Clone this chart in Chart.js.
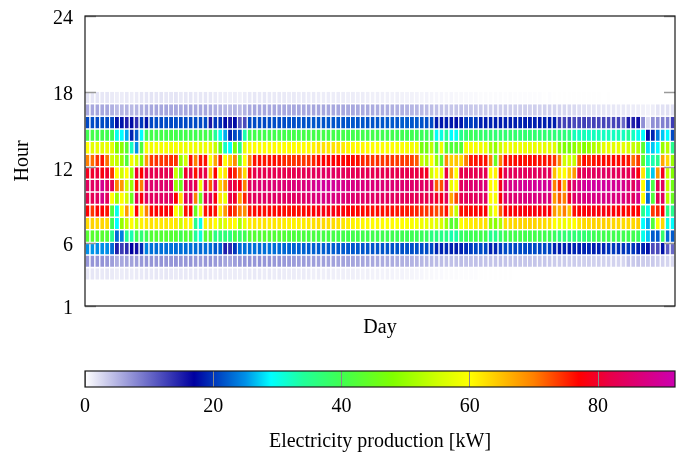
<!DOCTYPE html>
<html><head><meta charset="utf-8">
<script src="https://cdn.jsdelivr.net/npm/chart.js@4.4.0/dist/chart.umd.min.js"></script>
<style>
html,body{margin:0;padding:0;background:#fff;}
#wrap{position:relative;width:681px;height:454px;overflow:hidden;}
#heat{position:absolute;left:0;top:0;}
#cbar{position:absolute;left:0;top:350px;}
</style></head><body>
<div id="wrap">
<canvas id="heat" width="681" height="350"></canvas>
<canvas id="cbar" width="681" height="104"></canvas>
</div>
<script>
// ---------- categories / ticks ----------
const days = Array.from({length: 120}, (_, i) => i + 1);
const hourTicks = [1, 6, 12, 18, 24];
const colorbarTicks = [0, 20, 40, 60, 80];
const colorMin = 0, colorMax = 92;

// colormap (value -> colour)
const cmapStops  = [0, 17, 25, 29, 34, 40, 48, 55, 60, 65, 70, 77, 82, 92];
const cmapColors = ['#ffffff','#0000a0','#0090e8','#00ffff','#20ff9a','#40ff50','#80ff00','#d0ff00','#ffff00','#ffc000','#ff8000','#ff0000','#e8004a','#cc00b0'];

// ---------- series: electricity production [kW] per hour row, one value per day ----------
const prodHour03 = [1.6,1.7,1.6,1.5,1.6,1.4,1.2,1.3,1.4,1.3, 1.4,1.5,1.6,1.5,1.6,1.5,1.6,1.5,1.4,1.5, 1.5,1.4,1.5,1.4,1.5,1.4,1.3,1.4,1.3,1.2, 1.3,1.2,1.3,1.4,1.5,1.4,1.3,1.4,1.3,1.4, 1.3,1.2,1.3,1.2,1.3,1.2,1.1,1.2,1.1,1.2, 1.1,1.0,1.1,1.0,1.1,1.0,0.9,1.0,0.9,0.9, 0.8,0.9,0.8,0.7,0.8,0.7,0.7,0.6,0.6,0.5, 0.5,0.4,0.4,0.3,0.3,0.3,0.2,0.2,0.2,0.2, 0.1,0.1,0.1,0.1,0.1,0.1,0.1,0,0,0, 0,0,0,0,0,0,0,0,0,0, 0,0,0,0,0,0,0,0,0,0, 0,0,0,0,0,0,0,0,0,0];
const prodHour04 = [7,7.1,7,7.2,7,6.5,5.5,5.8,6,6.2, 6.4,6.8,7,7.1,7,7.2,7.1,7,7.2,6.9, 7,7.1,6.8,6.5,7,7.1,6.8,6.6,6,5.8, 6.5,6.8,7,7.1,7,7.2,7,7.1,6.9,7, 6.8,6.7,6.6,6.5,6.6,6.4,6.5,6.3,6.4,6.2, 6.3,6.1,6.2,6,6.1,5.9,6,5.8,5.9,5.7, 5.6,5.5,5.6,5.4,5.3,5.2,5.1,5,4.8,4.7, 4.6,4.5,4.4,4.3,4.2,4.3,4.4,4.2,4.1,4.2, 4.1,4,3.9,4,4.1,4,3.9,4,3.9,3.8, 3.8,3.9,3.7,3.8,3.6,3.5,3.4,3.5,3.3,3.4, 3.3,3.2,3.3,3.1,3.2,3,3.1,3,2.9,2.8, 3.8,3.6,3.9,3.5,3.4,3.6,3.2,3,2.8,2.5];
const prodHour05 = [25,25.2,24.8,25,24.9,23,15,13,14,17, 16,19.5,24,23.2,23,23.3,23.1,23.4,23,23.2, 23,23.3,23.1,23,23.2,23.1,22,22.3,15,14, 20,23,23.2,23.1,23.3,23,23.2,23.4,23.1,23, 22.8,22.6,22.5,22.4,22.5,22.3,22.4,22.2,22.3,22.1, 22.2,22,22.1,22,21.9,22,21.8,21.9,21.7,21.8, 21.7,21.8,21.6,21.7,21.5,21.6,21.4,21.5,21.3,21.2, 21,19.2,19,19.3,18.8,18.6,19,19.5,20.5,21, 21.2,21,19,19.2,20.5,21.2,21.3,21,21.2,21.1, 21,21.2,21,21.1,20.9,19,18.8,19,18.7,19.1, 18.9,19,19.2,18.8,19,19.3,20,20.2,19.8,20, 20.2,20,19,19,18,12,12,18,11,10];
const prodHour06 = [43,43.2,42.8,43,42.6,35,23,24,35,33, 40,37,40,42.5,42.8,42.6,43,42.7,42.9,40, 42.5,42,34,31,42.5,42.8,36,36.5,37,36, 41,38,40,42.6,42.8,42.5,42.9,42.7,42.4,42.6, 42.3,42,41.8,41.6,41.5,41.4,41.2,41,40.8,41, 40.8,40.6,40.5,40.4,40.2,40.3,40.1,40,40.2,40, 40,39.8,40,39.6,39.8,39.5,39.6,39.3,39,38.8, 36,36.5,35.5,36,33,33.5,38,39,39.5,40, 40.2,40,35,35.5,38,40.2,40.5,40.3,40.6,40.4, 40.2,40.5,40.1,40.3,40,39,37,37.5,36.8,37.2, 37,37.4,38,39.5,39.8,40,40.2,40,39.8,40, 40,40,39,30,27,22,22,38,23,22];
const prodHour07 = [63,63.5,63,63.2,63,40,29,50,54,60, 55,61,62,62.3,62,61.8,62.2,61.6,62,55, 61,60.5,35,30,61,62,60,55,57,61, 60,52,58,61.5,62,61.8,62.2,61.6,62,61.8, 61.5,61.2,61,61.3,61.5,61.8,62.5,62.8,63,62.6, 62.8,62.4,62,61.5,61,60.8,60.6,60.4,60.2,60.5, 60.2,60,60.3,59.8,60,59.6,59.4,59,58.5,58, 58,57,56,51,43,44,60,61,61.5,62, 62.2,62.5,50,49,52,62.6,63,63.2,63.5,63.3, 63.6,63.4,63,62.8,62.5,60,59,58.5,59.2,60, 62,63,63.2,63.5,63.4,63.8,63.5,63.2,63,62.8, 63,63,64,29,26,42,60,63,30,29];
const prodHour08 = [77,74,76.5,77,76,42,30,60,68,60, 77,62,70,76.5,77,76.8,77.2,76.6,60,54, 76,77,45,58,76,77,76,62,68,76, 74,70,69,76,76.5,76.8,76.3,76.7,76.5,76.9, 76.4,76.2,76.5,76.3,76.6,76.8,77.2,78,78.3,78, 78.2,77.8,77.5,77.2,77,76.8,76.6,76.4,76.2,76.5, 76.2,76,76.3,75.8,76,75.6,75.4,75,74.5,74, 74.5,73,73.5,76,64,54,76,76.3,76.5,76.8, 77,77.2,55,60,72,77,77.3,77.5,77.8,77.6, 77.8,78,77.5,77.7,77.2,68,66,70,65,76, 77,77.5,77.8,78,77.6,78.2,77.8,77.5,77.2,77, 76.5,77,77,35,30,74,75,77,36,35];
const prodHour09 = [82,83,84,88,84,60,50,60,55,45, 83,78,84,84.3,84,84.5,84.2,84.4,77,63, 83,84,70,45,83,84,78,62,58,82, 80,68,75,83,84,84.3,84.6,84.2,84.8,84.5, 84.3,84.6,84.2,84.5,84.8,85.5,86.5,87,87.8,87.2, 87.5,87,86.5,86,85.6,85.2,85,84.8,84.6,84.4, 84.2,84,84.3,83.8,84,83.6,83.4,83.2,82.8,82, 82.5,80,79,83,67,73,83,83.4,83.8,84, 84.2,84.6,60,59,78,85,85.6,86,86.5,87, 87.2,87.5,87,86.8,86.5,68,72,70,80,85, 86.5,87,87.4,87.8,87.5,88,87.6,87.2,87,86.8, 85.5,84,88,60,23,42,83,84,53,45];
const prodHour10 = [84,84.2,84.5,89,85,83,70,68,55,50, 76,70,85,85.3,85.6,85.2,85.5,85.1,50,45, 84,85,82,58,84,72,85,64,68,83, 81,78,70,84,85.5,85.7,86,85.8,86.2,86, 86,86.2,86.5,86.4,86.8,87.5,88.5,89.5,90,89.6, 89.8,89,88.5,88,87.6,87.2,87,86.8,86.5,86.6, 86.3,86.1,86,85.8,85.6,85.5,85.2,85,84.6,84, 84.5,72,72.5,85,58,60,84,85,85.4,85.6, 86,86.5,60,60,79,87,88,88.5,89,89.5, 89.2,89.6,90,89.4,89.8,70,75,66,82,86, 88,89.5,90,90.3,89.8,90.2,89.6,89.4,89,88.6, 87,84,88,60,25,41,83,84,54,46];
const prodHour11 = [79,80,81,78,80,74,60,55,60,50, 80,77,82,82.5,82,82.3,82.6,82.2,54,45, 80,82,76,81,82,65,77,60,62,78, 75,70,63,79,82,82.4,82.2,82.6,82.3,82.5, 82.2,82,82.3,82.5,82.8,83,83.5,84,84.2,84.5, 84.3,84,83.6,83.2,83,82.8,82.6,82.8,82.5,82.6, 82.4,82.2,82.5,82.1,82.3,82,81.8,81.5,80,79, 55,60,58,81,68,60,82,82.3,82.5,82.4, 82.6,82.8,60,61,77,83,83.3,83.5,84,83.6, 83.8,84,83.5,83.7,83.2,65,61,60,64,68, 82,83.6,84,83.8,84.2,84.5,84,83.7,83.5,83.2, 82.8,82,78,62,33,27,68,79,54,48];
const prodHour12 = [70,71,74,76,71,55,54,50,42,59, 55,48,68,74,74.5,74,74.3,74.6,74.2,50, 55,76,70,76,76,60,67,75,60,64, 69,45,60,70,76,76.2,75.8,76,76.3,75.9, 75,74.5,74.2,74.6,74,74.3,75,76.5,77,76.8, 77.2,77,76.8,77,76.5,76.2,75,74.6,74.2,74.5, 74,74.3,74.1,73.8,74,73.6,73.4,72,54,52, 60,50,44,69,64,64.5,63.5,70,75.5,76, 76.2,76,70,45,70,76.3,76,76.5,76.8,76.2, 76.5,76.4,76,76.2,75.8,74,70,55,55.5,54, 72,76.5,75,76,76.4,76.6,76.2,76.8,76.5,76.3, 76,71,74,43,32,33,35,67,63,50];
const prodHour13 = [60,57,57.5,57,57.5,57,48,49,43,32, 25,42,59,58.5,59,58.8,59.2,58.6,59,58.4, 58,58.5,58.2,57.8,58.4,58,54,46,32,29, 47,36,58,59.5,60,59.6,60,59.8,60.2,59.8, 60,60.2,59.9,60.3,60.1,60.4,61,62,62.3,61.8, 62.2,62,61.5,60.8,60.4,60.2,60.5,60.1,59.8,60, 59.7,59.5,59.8,59.3,59.6,59,58.8,58.5,47,46, 53,42,58,44,42,42.5,43,59,59.3,59, 58.5,58,52,50,55,58,58.3,57.8,58.2,58, 57.6,58,57.8,57.4,57.2,56.5,50,48,47,49, 51,48,50,52,53,57,57.5,57,57.4,57.2, 56,54,53,43,28,27,29,50,53,35];
const prodHour14 = [40,40.5,40,40.3,40,39.5,30,29,26,19, 22,29,39,40.5,40.2,40.6,40.3,40.8,40.5,40, 40.5,40.3,40,40.6,40.4,40,34,30,26,19, 21,22,33,40,40.4,40.6,40.2,40.5,40.3,40.6, 40.4,40.6,40.5,40.3,40.6,40.8,40.5,40.7,40.6,40.4, 40.5,40.3,40.6,40.4,40.2,40.5,40.3,40.1,40.4,40.2, 40,39.8,40.1,39.6,39.9,39.5,39.8,39.4,39.2,39, 38.5,29.5,30.5,34,29,29.5,35,37,39,38.5, 38,37.5,37.8,37.2,37.6,37.4,37.8,37.5,37.2,37.6, 37.3,37.5,37,37.4,37.1,36.8,36.5,36.6,36.2,32.5, 32,32.5,31.8,32.2,32.4,31.9,32.3,32,32.6,32.1, 34,32,30,29,17.5,19,24,27,29,21];
const prodHour15 = [21,21.3,21,21.2,21,20.8,18,18.2,15,17.6, 14,20,18,21,21.2,21,21.3,21,21.2,21, 21.1,21,21.2,21,21.1,15.5,20,19.5,17.5,15.5, 17.5,11,12,21,21.2,21.3,21,21.2,21.4,21.2, 21.3,21.5,21.4,21.6,21.5,21.6,21.8,21.7,21.6,21.8, 21.7,21.8,21.6,21.7,21.8,21.6,21.7,21.5,21.6,21.7, 21.8,21.9,22,21.8,22.1,22,21.8,21.9,21.6,21.4, 21,18.5,18.3,18.6,18.2,17.8,18.4,20,20.3,20.1, 18.8,18.6,18.9,18.7,18.5,18.8,18.6,18.7,18.9,18.5, 18.6,18.8,18.4,18.7,18.5,18.6,13,12.5,13.2,12, 12.4,12.8,12.2,12.6,12.3,12.5,12.1,12.4,12.6,10, 15,15,16,7.5,2.5,7.5,7.5,8.5,8.5,13];
const prodHour16 = [5.8,5.9,6.0,5.8,5.9,5.2,4.5,4.8,5.0,4.6, 4.9,5.3,5.6,5.9,6.0,5.9,6.0,5.8,5.9,5.6, 5.8,5.9,5.7,5.8,5.9,5.6,5.2,5.0,4.7,4.6, 4.8,4.4,5.0,5.7,5.9,5.8,5.9,5.8,5.9,5.8, 5.8,5.7,5.8,5.9,5.8,5.9,6.0,6.0,5.9,5.9, 5.8,5.9,5.8,5.7,5.8,5.7,5.6,5.7,5.6,5.5, 5.4,5.4,5.3,5.2,5.2,5.0,4.9,4.8,4.6,4.5, 4.4,4.2,4.0,3.9,3.8,3.9,4.0,3.8,3.7,3.6, 3.5,3.4,3.2,3.4,3.3,3.4,3.3,3.2,3.3,3.2, 3.1,3.2,3.0,3.1,3.0,2.9,2.8,2.7,2.6,2.5, 2.2,2.0,1.9,1.8,1.8,1.7,1.7,1.6,1.5,1.5, 1.4,1.3,1.2,1.0,0.8,1.2,1.8,2.0,2.1,2.0];
const prodHour17 = [1.8,1.7,1.8,1.6,1.7,1.4,1.2,1.3,1.5,1.2, 1.4,1.6,1.7,1.8,1.7,1.8,1.6,1.7,1.8,1.5, 1.6,1.7,1.5,1.6,1.7,1.6,1.4,1.3,1.2,1.1, 1.2,1.0,1.3,1.5,1.6,1.5,1.6,1.5,1.4,1.5, 1.4,1.3,1.4,1.3,1.4,1.3,1.4,1.3,1.2,1.3, 1.2,1.3,1.2,1.1,1.2,1.1,1.2,1.1,1.0,1.1, 1.0,1.0,0.9,1.0,0.9,0.8,0.9,0.8,0.7,0.8, 0.7,0.6,0.6,0.5,0.6,0.5,0.5,0.4,0.4,0.4, 0.3,0.3,0.3,0.3,0.3,0.2,0.3,0.2,0.2,0.2, 0.2,0.2,0.2,0.1,0.2,0.1,0.1,0.1,0.1,0.1, 0.1,0.1,0.1,0.1,0.1,0,0.1,0,0,0, 0,0,0,0,0,0,0,0,0,0];

const hourRows = [
  [3, prodHour03],[4, prodHour04],[5, prodHour05],[6, prodHour06],[7, prodHour07],
  [8, prodHour08],[9, prodHour09],[10, prodHour10],[11, prodHour11],[12, prodHour12],
  [13, prodHour13],[14, prodHour14],[15, prodHour15],[16, prodHour16],[17, prodHour17]
];

// ---------- colormap ----------
function hexRgb(h){return [parseInt(h.slice(1,3),16),parseInt(h.slice(3,5),16),parseInt(h.slice(5,7),16)];}
const cmapRgb = cmapColors.map(hexRgb);
function colorFor(v){
  if (v <= cmapStops[0]) return cmapColors[0];
  for (let i = 1; i < cmapStops.length; i++) {
    if (v <= cmapStops[i]) {
      const t = (v - cmapStops[i-1]) / (cmapStops[i] - cmapStops[i-1]);
      const a = cmapRgb[i-1], b = cmapRgb[i];
      return 'rgb(' + a.map((c, k) => Math.round(c + (b[k]-c)*t)).join(',') + ')';
    }
  }
  return cmapColors[cmapColors.length-1];
}

Chart.defaults.font.family = '"Liberation Serif", "Times New Roman", serif';
Chart.defaults.font.size = 20;
Chart.defaults.color = '#000';

const heatDecor = {
  id: 'heatDecor',
  afterDatasetsDraw(chart) {
    const {ctx, chartArea: a, scales: {y}} = chart;
    ctx.save();
    ctx.strokeStyle = '#9a9a9a'; ctx.lineWidth = 1.5;
    hourTicks.forEach(v => {
      const py = Math.round(y.getPixelForValue(v)) + 0.5;
      ctx.beginPath();
      ctx.moveTo(a.left, py); ctx.lineTo(a.left + 11, py);
      ctx.moveTo(a.right - 11, py); ctx.lineTo(a.right, py);
      ctx.stroke();
    });
    ctx.strokeStyle = '#1a1a1a'; ctx.lineWidth = 1.2;
    ctx.strokeRect(a.left, a.top, a.right - a.left, a.bottom - a.top);
    ctx.restore();
  }
};

new Chart(document.getElementById('heat'), {
  type: 'bar',
  data: {
    labels: days,
    datasets: hourRows.map(([h, vals]) => ({
      label: 'Hour ' + h,
      data: vals.map(() => [h, h + 1]),
      backgroundColor: vals.map(colorFor),
      borderColor: '#ffffff',
      borderWidth: {top: 0, left: 0, right: 0, bottom: 1.3},
      borderSkipped: false,
      grouped: false,
      barPercentage: 0.8,
      categoryPercentage: 1.0
    }))
  },
  options: {
    responsive: false,
    animation: false,
    events: [],
    layout: {padding: {left: 0, right: 6, top: 16, bottom: 0}},
    plugins: {legend: {display: false}, tooltip: {enabled: false}},
    scales: {
      x: {
        type: 'category',
        grid: {display: false},
        border: {display: false},
        ticks: {display: false},
        title: {display: true, text: 'Day', padding: {top: 0, bottom: 10}},
        afterFit: s => { s.height = 44; }
      },
      y: {
        type: 'linear', min: 1, max: 24,
        grid: {display: true, drawOnChartArea: false, drawTicks: true, tickLength: 12, color: 'rgba(0,0,0,0)'},
        border: {display: false},
        ticks: {padding: 0, labelOffset: 3},
        afterBuildTicks: s => { s.ticks = hourTicks.map(v => ({value: v})); },
        title: {display: true, text: 'Hour', padding: {top: 11, bottom: 0}},
        afterFit: s => { s.width = 85; }
      }
    }
  },
  plugins: [heatDecor]
});

const cbarDecor = {
  id: 'cbarDecor',
  beforeDraw(chart) {
    const {ctx, chartArea: a} = chart;
    const g = ctx.createLinearGradient(a.left, 0, a.right, 0);
    cmapStops.forEach((v, i) => g.addColorStop((v - colorMin) / (colorMax - colorMin), cmapColors[i]));
    ctx.save();
    ctx.fillStyle = g;
    ctx.fillRect(a.left, a.top, a.right - a.left, a.bottom - a.top);
    ctx.restore();
  },
  afterDraw(chart) {
    const {ctx, chartArea: a} = chart;
    ctx.save();
    ctx.strokeStyle = '#1a1a1a'; ctx.lineWidth = 1.2;
    ctx.strokeRect(a.left, a.top, a.right - a.left, a.bottom - a.top);
    ctx.restore();
  }
};

new Chart(document.getElementById('cbar'), {
  type: 'scatter',
  data: {datasets: []},
  options: {
    responsive: false,
    animation: false,
    events: [],
    layout: {padding: {left: 85, right: 6, top: 21, bottom: 0}},
    plugins: {legend: {display: false}, tooltip: {enabled: false}},
    scales: {
      x: {
        type: 'linear', min: colorMin, max: colorMax,
        grid: {display: true, drawOnChartArea: true, drawTicks: false, color: '#888', lineWidth: 1},
        border: {display: false},
        ticks: {padding: 8},
        afterBuildTicks: s => { s.ticks = colorbarTicks.map(v => ({value: v})); },
        title: {display: true, text: 'Electricity production [kW]', padding: {top: 0, bottom: 0}},
        afterFit: s => { s.height = 67; }
      },
      y: {display: false, min: 0, max: 1}
    }
  },
  plugins: [cbarDecor]
});
</script>
</body></html>
